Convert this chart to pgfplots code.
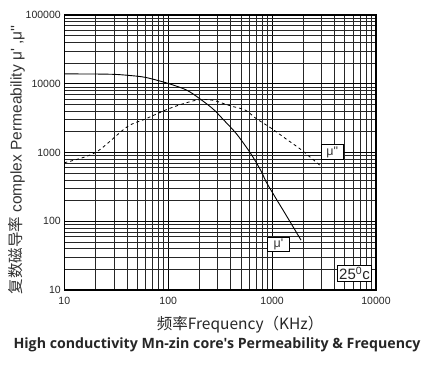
\documentclass[border=0pt]{standalone}
\usepackage{pgfplots}
\pgfplotsset{compat=1.18}
\usepackage{fontspec}
\setmainfont{Liberation Sans}
\newfontfamily\arial{Liberation Sans}
\newfontfamily\cjk{Noto Sans CJK SC}
\newfontfamily\titlefont{Open Sans}
\begin{document}
\begin{tikzpicture}
\useasboundingbox (-64.3pt,-77pt) rectangle (360.7pt,290pt);
\begin{axis}[
  at={(0,0)}, anchor=south west,
  scale only axis, width=311.7pt, height=275pt,
  xmode=log, ymode=log,
  xmin=10, xmax=10000, ymin=10, ymax=100000,
  xtick={10,100,1000,10000}, xticklabels={10,100,1000,10000},
  ytick={10,100,1000,10000,100000}, yticklabels={10,100,1000,10000,100000},
  minor xtick={20,30,40,50,60,70,80,90,200,300,400,500,600,700,800,900,2000,3000,4000,5000,6000,7000,8000,9000},
  minor ytick={20,30,40,50,60,70,80,90,200,300,400,500,600,700,800,900,2000,3000,4000,5000,6000,7000,8000,9000,20000,30000,40000,50000,60000,70000,80000,90000},
  grid=both,
  major grid style={black, line width=0.8pt},
  minor grid style={black!85, line width=0.65pt},
  axis line style={black, line width=1.4pt},
  tick style={draw=none},
  ticklabel style={font=\arial\fontsize{10.5}{11}\selectfont, text=black!85},
  xticklabel style={yshift=-4pt},
  yticklabel style={xshift=0pt},
  ylabel={{\cjk 复数磁导率} complex Permeability μ' ,μ''},
  ylabel style={font=\arial\fontsize{15.5}{17}\selectfont, text=black!80, at={(axis description cs:-0.153,0.473)}, anchor=center, rotate=0},
  xlabel={\cjk 频率Frequency（KHz）},
  xlabel style={font=\fontsize{15.5}{17}\selectfont, text=black!85, at={(axis description cs:0.564,-0.127)}, anchor=center},
  clip=false,
]
\addplot[black, line width=0.9pt, smooth, tension=0.5] coordinates {
(10,13900) (20,13850) (30,13700) (40,13300) (60,12400) (100,10100) (150,8100) (200,6100) (270,4300) (340,3000) (450,1900) (590,1090) (680,780) (790,525) (875,376) (1040,241) (1390,117) (1900,53)
};
\addplot[black, line width=0.8pt, dash pattern=on 3pt off 3pt, smooth, tension=0.5] coordinates {
(10,710) (20,1000) (40,2350) (60,3060) (100,4300) (150,5300) (200,5850) (270,5750) (400,4750) (550,4150) (700,3130) (970,2280) (1400,1530) (1900,1100) (3000,620)
};
\node[draw=black, line width=0.8pt, fill=white, inner sep=1pt, minimum width=22pt, minimum height=14.5pt, font=\arial\fontsize{12.5}{13}\selectfont, text=black!80] at (axis cs:1150,46) {μ'};
\node[draw=black, line width=0.8pt, fill=white, inner sep=1pt, minimum width=22pt, minimum height=14.5pt, font=\arial\fontsize{12.5}{13}\selectfont, text=black!80] at (axis cs:3790,1016) {μ"};
\node[draw=black, line width=0.8pt, fill=white, inner sep=1.5pt, font=\arial\fontsize{15}{16}\selectfont, text=black!85] at (axis description cs:0.931,0.06) {25\textsuperscript{0}c};
\node[font=\titlefont\bfseries\fontsize{14.2}{16}\selectfont, text=black!85] at (axis description cs:0.49,-0.2) {High conductivity Mn-zin core's Permeability \& Frequency};
\end{axis}
\end{tikzpicture}
\end{document}
